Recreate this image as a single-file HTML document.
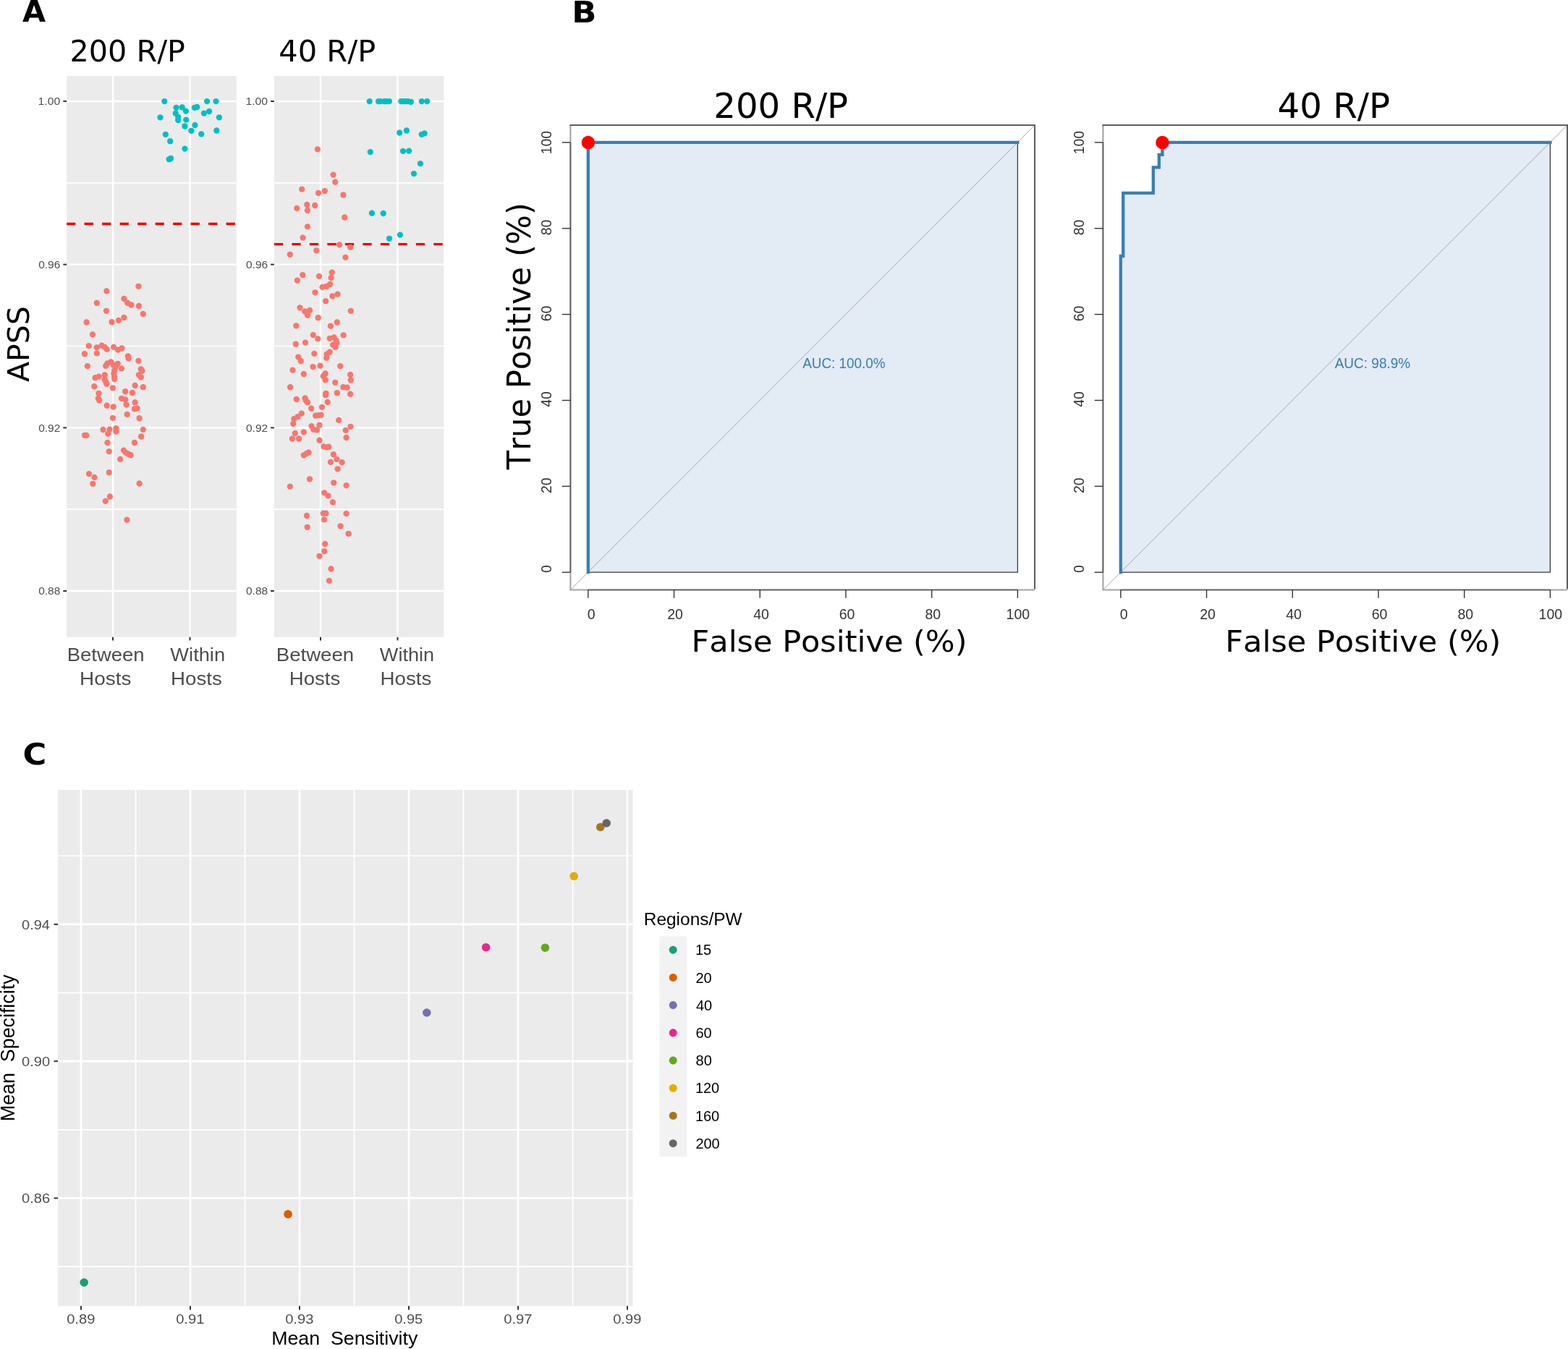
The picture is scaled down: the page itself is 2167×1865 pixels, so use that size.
<!DOCTYPE html>
<html><head><meta charset="utf-8"><title>Figure</title>
<style>html,body{margin:0;padding:0;background:#fff;}svg{display:block;}text{font-kerning:none;font-variant-ligatures:none;}</style>
</head><body>
<svg width="2167" height="1865" viewBox="0 0 2167 1865">
<rect width="2167" height="1865" fill="#fff"/>
<text x="31.10" y="29.70" font-family='"DejaVu Sans", Verdana, sans-serif' font-weight="bold" font-size="41" fill="#000" textLength="32.11" lengthAdjust="spacingAndGlyphs" xml:space="preserve">A</text>
<text x="790.19" y="30.70" font-family='"DejaVu Sans", Verdana, sans-serif' font-weight="bold" font-size="41" fill="#000" textLength="34.17" lengthAdjust="spacingAndGlyphs" xml:space="preserve">B</text>
<text x="31.58" y="1056.80" font-family='"DejaVu Sans", Verdana, sans-serif' font-weight="bold" font-size="41" fill="#000" textLength="32.78" lengthAdjust="spacingAndGlyphs" xml:space="preserve">C</text>
<rect x="92.1" y="105" width="234.6" height="775.8" fill="#ebebeb"/>
<line x1="92.1" x2="326.7" y1="252.83" y2="252.83" stroke="#fff" stroke-width="1.6"/>
<line x1="92.1" x2="326.7" y1="478.5" y2="478.5" stroke="#fff" stroke-width="1.6"/>
<line x1="92.1" x2="326.7" y1="704.17" y2="704.17" stroke="#fff" stroke-width="1.6"/>
<line x1="92.1" x2="326.7" y1="140" y2="140" stroke="#fff" stroke-width="2.4"/>
<line x1="92.1" x2="326.7" y1="365.67" y2="365.67" stroke="#fff" stroke-width="2.4"/>
<line x1="92.1" x2="326.7" y1="591.34" y2="591.34" stroke="#fff" stroke-width="2.4"/>
<line x1="92.1" x2="326.7" y1="817" y2="817" stroke="#fff" stroke-width="2.4"/>
<line x1="156" x2="156" y1="105" y2="880.8" stroke="#fff" stroke-width="2.4"/>
<line x1="262.5" x2="262.5" y1="105" y2="880.8" stroke="#fff" stroke-width="2.4"/>
<line x1="92.1" x2="326.7" y1="309.5" y2="309.5" stroke="#ee0000" stroke-width="3.4" stroke-dasharray="12.25 12.25"/>
<circle cx="191.4" cy="395.8" r="4.15" fill="#f8766d"/>
<circle cx="147.3" cy="402.4" r="4.15" fill="#f8766d"/>
<circle cx="171.4" cy="413" r="4.15" fill="#f8766d"/>
<circle cx="133.8" cy="418.8" r="4.15" fill="#f8766d"/>
<circle cx="176.1" cy="418.8" r="4.15" fill="#f8766d"/>
<circle cx="181.4" cy="421.5" r="4.15" fill="#f8766d"/>
<circle cx="191.9" cy="423" r="4.15" fill="#f8766d"/>
<circle cx="147" cy="429.8" r="4.15" fill="#f8766d"/>
<circle cx="197.8" cy="434" r="4.15" fill="#f8766d"/>
<circle cx="171.4" cy="439" r="4.15" fill="#f8766d"/>
<circle cx="163.9" cy="442.9" r="4.15" fill="#f8766d"/>
<circle cx="154.5" cy="445.2" r="4.15" fill="#f8766d"/>
<circle cx="119.6" cy="445.5" r="4.15" fill="#f8766d"/>
<circle cx="128" cy="462.4" r="4.15" fill="#f8766d"/>
<circle cx="122.7" cy="478.1" r="4.15" fill="#f8766d"/>
<circle cx="133.8" cy="480.3" r="4.15" fill="#f8766d"/>
<circle cx="140.7" cy="477.6" r="4.15" fill="#f8766d"/>
<circle cx="144.7" cy="479.9" r="4.15" fill="#f8766d"/>
<circle cx="147.7" cy="482.9" r="4.15" fill="#f8766d"/>
<circle cx="157.1" cy="479.9" r="4.15" fill="#f8766d"/>
<circle cx="163" cy="483.6" r="4.15" fill="#f8766d"/>
<circle cx="168.4" cy="481.4" r="4.15" fill="#f8766d"/>
<circle cx="117" cy="489.2" r="4.15" fill="#f8766d"/>
<circle cx="133.8" cy="488.4" r="4.15" fill="#f8766d"/>
<circle cx="176.9" cy="492.3" r="4.15" fill="#f8766d"/>
<circle cx="177.6" cy="495.6" r="4.15" fill="#f8766d"/>
<circle cx="191.4" cy="498.9" r="4.15" fill="#f8766d"/>
<circle cx="153.4" cy="500.4" r="4.15" fill="#f8766d"/>
<circle cx="148.5" cy="502.3" r="4.15" fill="#f8766d"/>
<circle cx="162.7" cy="502.8" r="4.15" fill="#f8766d"/>
<circle cx="146.2" cy="505.8" r="4.15" fill="#f8766d"/>
<circle cx="156.7" cy="504.6" r="4.15" fill="#f8766d"/>
<circle cx="120.8" cy="506.1" r="4.15" fill="#f8766d"/>
<circle cx="159.7" cy="507.6" r="4.15" fill="#f8766d"/>
<circle cx="167.9" cy="509.4" r="4.15" fill="#f8766d"/>
<circle cx="194.8" cy="510.3" r="4.15" fill="#f8766d"/>
<circle cx="196.3" cy="512.8" r="4.15" fill="#f8766d"/>
<circle cx="158.2" cy="512.1" r="4.15" fill="#f8766d"/>
<circle cx="157.4" cy="516.5" r="4.15" fill="#f8766d"/>
<circle cx="191.9" cy="518.3" r="4.15" fill="#f8766d"/>
<circle cx="194.8" cy="521.3" r="4.15" fill="#f8766d"/>
<circle cx="144.7" cy="518.3" r="4.15" fill="#f8766d"/>
<circle cx="136.5" cy="520.6" r="4.15" fill="#f8766d"/>
<circle cx="131.6" cy="522.2" r="4.15" fill="#f8766d"/>
<circle cx="158.2" cy="521.3" r="4.15" fill="#f8766d"/>
<circle cx="158.2" cy="524" r="4.15" fill="#f8766d"/>
<circle cx="144.7" cy="524.8" r="4.15" fill="#f8766d"/>
<circle cx="146.2" cy="527.8" r="4.15" fill="#f8766d"/>
<circle cx="147.4" cy="530.8" r="4.15" fill="#f8766d"/>
<circle cx="186.6" cy="533" r="4.15" fill="#f8766d"/>
<circle cx="130.2" cy="534.2" r="4.15" fill="#f8766d"/>
<circle cx="197.8" cy="535.2" r="4.15" fill="#f8766d"/>
<circle cx="155.9" cy="536.3" r="4.15" fill="#f8766d"/>
<circle cx="173.2" cy="541.2" r="4.15" fill="#f8766d"/>
<circle cx="182.9" cy="543" r="4.15" fill="#f8766d"/>
<circle cx="136.5" cy="543.8" r="4.15" fill="#f8766d"/>
<circle cx="135.8" cy="550.9" r="4.15" fill="#f8766d"/>
<circle cx="137.2" cy="553.6" r="4.15" fill="#f8766d"/>
<circle cx="167.9" cy="550.9" r="4.15" fill="#f8766d"/>
<circle cx="173.2" cy="552.4" r="4.15" fill="#f8766d"/>
<circle cx="186.6" cy="556.2" r="4.15" fill="#f8766d"/>
<circle cx="174.6" cy="559.5" r="4.15" fill="#f8766d"/>
<circle cx="147.7" cy="560.7" r="4.15" fill="#f8766d"/>
<circle cx="156.7" cy="562.5" r="4.15" fill="#f8766d"/>
<circle cx="185.9" cy="565.2" r="4.15" fill="#f8766d"/>
<circle cx="189.6" cy="564.4" r="4.15" fill="#f8766d"/>
<circle cx="175.7" cy="572.9" r="4.15" fill="#f8766d"/>
<circle cx="155.9" cy="577.9" r="4.15" fill="#f8766d"/>
<circle cx="192.6" cy="578.2" r="4.15" fill="#f8766d"/>
<circle cx="142.5" cy="594" r="4.15" fill="#f8766d"/>
<circle cx="151.5" cy="593.6" r="4.15" fill="#f8766d"/>
<circle cx="149.2" cy="599.6" r="4.15" fill="#f8766d"/>
<circle cx="160.4" cy="592.1" r="4.15" fill="#f8766d"/>
<circle cx="160.4" cy="596.6" r="4.15" fill="#f8766d"/>
<circle cx="197.8" cy="593.9" r="4.15" fill="#f8766d"/>
<circle cx="117" cy="601.8" r="4.15" fill="#f8766d"/>
<circle cx="119.3" cy="601.8" r="4.15" fill="#f8766d"/>
<circle cx="195.1" cy="603.5" r="4.15" fill="#f8766d"/>
<circle cx="148.5" cy="612" r="4.15" fill="#f8766d"/>
<circle cx="185.9" cy="612" r="4.15" fill="#f8766d"/>
<circle cx="150.7" cy="624.1" r="4.15" fill="#f8766d"/>
<circle cx="170.9" cy="622.6" r="4.15" fill="#f8766d"/>
<circle cx="173.9" cy="625.9" r="4.15" fill="#f8766d"/>
<circle cx="177.6" cy="627.7" r="4.15" fill="#f8766d"/>
<circle cx="180.6" cy="629.2" r="4.15" fill="#f8766d"/>
<circle cx="166.1" cy="634.9" r="4.15" fill="#f8766d"/>
<circle cx="123" cy="655.1" r="4.15" fill="#f8766d"/>
<circle cx="130.5" cy="659.9" r="4.15" fill="#f8766d"/>
<circle cx="128.3" cy="668.8" r="4.15" fill="#f8766d"/>
<circle cx="150.7" cy="653.1" r="4.15" fill="#f8766d"/>
<circle cx="192.6" cy="668.5" r="4.15" fill="#f8766d"/>
<circle cx="151.9" cy="686.5" r="4.15" fill="#f8766d"/>
<circle cx="145.8" cy="692.8" r="4.15" fill="#f8766d"/>
<circle cx="175.4" cy="718.7" r="4.15" fill="#f8766d"/>
<circle cx="227.3" cy="140.1" r="4.15" fill="#00bfc4"/>
<circle cx="286.1" cy="140.1" r="4.15" fill="#00bfc4"/>
<circle cx="298.5" cy="140.1" r="4.15" fill="#00bfc4"/>
<circle cx="243.5" cy="148.8" r="4.15" fill="#00bfc4"/>
<circle cx="251.7" cy="148.3" r="4.15" fill="#00bfc4"/>
<circle cx="256.9" cy="153.6" r="4.15" fill="#00bfc4"/>
<circle cx="268.9" cy="148.8" r="4.15" fill="#00bfc4"/>
<circle cx="272.3" cy="148" r="4.15" fill="#00bfc4"/>
<circle cx="289.1" cy="154" r="4.15" fill="#00bfc4"/>
<circle cx="281.9" cy="156.6" r="4.15" fill="#00bfc4"/>
<circle cx="242.7" cy="156.6" r="4.15" fill="#00bfc4"/>
<circle cx="221.5" cy="162.3" r="4.15" fill="#00bfc4"/>
<circle cx="246.2" cy="161.8" r="4.15" fill="#00bfc4"/>
<circle cx="246.2" cy="166" r="4.15" fill="#00bfc4"/>
<circle cx="257.2" cy="165.6" r="4.15" fill="#00bfc4"/>
<circle cx="302.9" cy="162.3" r="4.15" fill="#00bfc4"/>
<circle cx="255.4" cy="174.5" r="4.15" fill="#00bfc4"/>
<circle cx="269.4" cy="173" r="4.15" fill="#00bfc4"/>
<circle cx="264.4" cy="180.8" r="4.15" fill="#00bfc4"/>
<circle cx="278.2" cy="185.3" r="4.15" fill="#00bfc4"/>
<circle cx="299.3" cy="180.5" r="4.15" fill="#00bfc4"/>
<circle cx="228.8" cy="185.8" r="4.15" fill="#00bfc4"/>
<circle cx="235.2" cy="195.2" r="4.15" fill="#00bfc4"/>
<circle cx="255.4" cy="205.6" r="4.15" fill="#00bfc4"/>
<circle cx="233.7" cy="220.2" r="4.15" fill="#00bfc4"/>
<circle cx="236" cy="219" r="4.15" fill="#00bfc4"/>
<line x1="87.3" x2="92.1" y1="140" y2="140" stroke="#333" stroke-width="2"/>
<text x="52.60" y="145.30" font-family='"Liberation Sans", Arial, Helvetica, sans-serif' font-size="15.2" fill="#4d4d4d" textLength="30.61" lengthAdjust="spacingAndGlyphs" xml:space="preserve">1.00</text>
<line x1="87.3" x2="92.1" y1="365.67" y2="365.67" stroke="#333" stroke-width="2"/>
<text x="53.20" y="370.97" font-family='"Liberation Sans", Arial, Helvetica, sans-serif' font-size="15.2" fill="#4d4d4d" textLength="30.08" lengthAdjust="spacingAndGlyphs" xml:space="preserve">0.96</text>
<line x1="87.3" x2="92.1" y1="591.34" y2="591.34" stroke="#333" stroke-width="2"/>
<text x="53.19" y="596.64" font-family='"Liberation Sans", Arial, Helvetica, sans-serif' font-size="15.2" fill="#4d4d4d" textLength="30.19" lengthAdjust="spacingAndGlyphs" xml:space="preserve">0.92</text>
<line x1="87.3" x2="92.1" y1="817" y2="817" stroke="#333" stroke-width="2"/>
<text x="53.20" y="822.30" font-family='"Liberation Sans", Arial, Helvetica, sans-serif' font-size="15.2" fill="#4d4d4d" textLength="30.08" lengthAdjust="spacingAndGlyphs" xml:space="preserve">0.88</text>
<line x1="156" x2="156" y1="880.8" y2="885.4" stroke="#333" stroke-width="2"/>
<line x1="262.5" x2="262.5" y1="880.8" y2="885.4" stroke="#333" stroke-width="2"/>
<text x="92.75" y="914.10" font-family='"Liberation Sans", Arial, Helvetica, sans-serif' font-size="26.5" fill="#4d4d4d" textLength="106.83" lengthAdjust="spacingAndGlyphs" xml:space="preserve">Between</text>
<text x="110.11" y="947.40" font-family='"Liberation Sans", Arial, Helvetica, sans-serif' font-size="26.5" fill="#4d4d4d" textLength="71.30" lengthAdjust="spacingAndGlyphs" xml:space="preserve">Hosts</text>
<text x="235.38" y="914.10" font-family='"Liberation Sans", Arial, Helvetica, sans-serif' font-size="26.5" fill="#4d4d4d" textLength="75.69" lengthAdjust="spacingAndGlyphs" xml:space="preserve">Within</text>
<text x="236.13" y="947.40" font-family='"Liberation Sans", Arial, Helvetica, sans-serif' font-size="26.5" fill="#4d4d4d" textLength="70.67" lengthAdjust="spacingAndGlyphs" xml:space="preserve">Hosts</text>
<text x="96.58" y="85.00" font-family='"DejaVu Sans", Verdana, sans-serif' font-size="41" fill="#000" textLength="159.44" lengthAdjust="spacingAndGlyphs" xml:space="preserve">200 R/P</text>
<rect x="378.9" y="105" width="234.4" height="775.8" fill="#ebebeb"/>
<line x1="378.9" x2="613.3" y1="252.83" y2="252.83" stroke="#fff" stroke-width="1.6"/>
<line x1="378.9" x2="613.3" y1="478.5" y2="478.5" stroke="#fff" stroke-width="1.6"/>
<line x1="378.9" x2="613.3" y1="704.17" y2="704.17" stroke="#fff" stroke-width="1.6"/>
<line x1="378.9" x2="613.3" y1="140" y2="140" stroke="#fff" stroke-width="2.4"/>
<line x1="378.9" x2="613.3" y1="365.67" y2="365.67" stroke="#fff" stroke-width="2.4"/>
<line x1="378.9" x2="613.3" y1="591.34" y2="591.34" stroke="#fff" stroke-width="2.4"/>
<line x1="378.9" x2="613.3" y1="817" y2="817" stroke="#fff" stroke-width="2.4"/>
<line x1="443" x2="443" y1="105" y2="880.8" stroke="#fff" stroke-width="2.4"/>
<line x1="549.5" x2="549.5" y1="105" y2="880.8" stroke="#fff" stroke-width="2.4"/>
<line x1="378.9" x2="613.3" y1="337.6" y2="337.6" stroke="#ee0000" stroke-width="3.4" stroke-dasharray="12.25 12.25"/>
<circle cx="438.9" cy="206.4" r="4.15" fill="#f8766d"/>
<circle cx="460.6" cy="241.6" r="4.15" fill="#f8766d"/>
<circle cx="463.2" cy="251.6" r="4.15" fill="#f8766d"/>
<circle cx="417.2" cy="261.6" r="4.15" fill="#f8766d"/>
<circle cx="440" cy="266.8" r="4.15" fill="#f8766d"/>
<circle cx="448.9" cy="264" r="4.15" fill="#f8766d"/>
<circle cx="474.4" cy="269.5" r="4.15" fill="#f8766d"/>
<circle cx="424.3" cy="283" r="4.15" fill="#f8766d"/>
<circle cx="435.2" cy="284" r="4.15" fill="#f8766d"/>
<circle cx="410.3" cy="287.9" r="4.15" fill="#f8766d"/>
<circle cx="425" cy="290.9" r="4.15" fill="#f8766d"/>
<circle cx="476.2" cy="300.5" r="4.15" fill="#f8766d"/>
<circle cx="425" cy="313.4" r="4.15" fill="#f8766d"/>
<circle cx="418.6" cy="328.6" r="4.15" fill="#f8766d"/>
<circle cx="469.1" cy="338.4" r="4.15" fill="#f8766d"/>
<circle cx="484.1" cy="341.8" r="4.15" fill="#f8766d"/>
<circle cx="437.3" cy="346.3" r="4.15" fill="#f8766d"/>
<circle cx="400.8" cy="351.8" r="4.15" fill="#f8766d"/>
<circle cx="477.4" cy="355.8" r="4.15" fill="#f8766d"/>
<circle cx="418.3" cy="380.1" r="4.15" fill="#f8766d"/>
<circle cx="410.8" cy="387.6" r="4.15" fill="#f8766d"/>
<circle cx="441" cy="381.9" r="4.15" fill="#f8766d"/>
<circle cx="458.7" cy="376.7" r="4.15" fill="#f8766d"/>
<circle cx="457.6" cy="384.1" r="4.15" fill="#f8766d"/>
<circle cx="456.1" cy="392.8" r="4.15" fill="#f8766d"/>
<circle cx="451.2" cy="395.8" r="4.15" fill="#f8766d"/>
<circle cx="445.6" cy="396.9" r="4.15" fill="#f8766d"/>
<circle cx="435.5" cy="404.3" r="4.15" fill="#f8766d"/>
<circle cx="466.6" cy="406.6" r="4.15" fill="#f8766d"/>
<circle cx="459.4" cy="409.3" r="4.15" fill="#f8766d"/>
<circle cx="450.1" cy="416.3" r="4.15" fill="#f8766d"/>
<circle cx="414.5" cy="425.3" r="4.15" fill="#f8766d"/>
<circle cx="421.3" cy="430.5" r="4.15" fill="#f8766d"/>
<circle cx="428" cy="429" r="4.15" fill="#f8766d"/>
<circle cx="425" cy="435.8" r="4.15" fill="#f8766d"/>
<circle cx="439.7" cy="439.2" r="4.15" fill="#f8766d"/>
<circle cx="484.8" cy="429.8" r="4.15" fill="#f8766d"/>
<circle cx="409.3" cy="450.3" r="4.15" fill="#f8766d"/>
<circle cx="465.8" cy="445.5" r="4.15" fill="#f8766d"/>
<circle cx="456.9" cy="450.7" r="4.15" fill="#f8766d"/>
<circle cx="432.8" cy="463.1" r="4.15" fill="#f8766d"/>
<circle cx="439.2" cy="468.4" r="4.15" fill="#f8766d"/>
<circle cx="474.7" cy="463.4" r="4.15" fill="#f8766d"/>
<circle cx="455.7" cy="467.9" r="4.15" fill="#f8766d"/>
<circle cx="461.7" cy="466.4" r="4.15" fill="#f8766d"/>
<circle cx="464.6" cy="470.9" r="4.15" fill="#f8766d"/>
<circle cx="465.4" cy="473.9" r="4.15" fill="#f8766d"/>
<circle cx="460.2" cy="476.9" r="4.15" fill="#f8766d"/>
<circle cx="463.6" cy="479.9" r="4.15" fill="#f8766d"/>
<circle cx="408.8" cy="475.7" r="4.15" fill="#f8766d"/>
<circle cx="422" cy="473.6" r="4.15" fill="#f8766d"/>
<circle cx="434.3" cy="488.9" r="4.15" fill="#f8766d"/>
<circle cx="455.7" cy="486.6" r="4.15" fill="#f8766d"/>
<circle cx="451.6" cy="489.6" r="4.15" fill="#f8766d"/>
<circle cx="451.2" cy="494.8" r="4.15" fill="#f8766d"/>
<circle cx="412.3" cy="493.6" r="4.15" fill="#f8766d"/>
<circle cx="415.7" cy="499" r="4.15" fill="#f8766d"/>
<circle cx="432.5" cy="507.1" r="4.15" fill="#f8766d"/>
<circle cx="442.5" cy="505.6" r="4.15" fill="#f8766d"/>
<circle cx="470.2" cy="506.1" r="4.15" fill="#f8766d"/>
<circle cx="404.5" cy="511.6" r="4.15" fill="#f8766d"/>
<circle cx="419.8" cy="517" r="4.15" fill="#f8766d"/>
<circle cx="449.7" cy="516.5" r="4.15" fill="#f8766d"/>
<circle cx="446.7" cy="520" r="4.15" fill="#f8766d"/>
<circle cx="449.7" cy="525.2" r="4.15" fill="#f8766d"/>
<circle cx="484.1" cy="518" r="4.15" fill="#f8766d"/>
<circle cx="484.8" cy="525.5" r="4.15" fill="#f8766d"/>
<circle cx="463.2" cy="528.8" r="4.15" fill="#f8766d"/>
<circle cx="401.1" cy="535.2" r="4.15" fill="#f8766d"/>
<circle cx="474.4" cy="535.2" r="4.15" fill="#f8766d"/>
<circle cx="479.6" cy="535.7" r="4.15" fill="#f8766d"/>
<circle cx="450.4" cy="543.8" r="4.15" fill="#f8766d"/>
<circle cx="450.1" cy="546.2" r="4.15" fill="#f8766d"/>
<circle cx="465.8" cy="543.2" r="4.15" fill="#f8766d"/>
<circle cx="484.1" cy="544.7" r="4.15" fill="#f8766d"/>
<circle cx="409.7" cy="552" r="4.15" fill="#f8766d"/>
<circle cx="421.6" cy="550.5" r="4.15" fill="#f8766d"/>
<circle cx="422.8" cy="553.9" r="4.15" fill="#f8766d"/>
<circle cx="425" cy="556.2" r="4.15" fill="#f8766d"/>
<circle cx="452.7" cy="555.9" r="4.15" fill="#f8766d"/>
<circle cx="430.2" cy="564.7" r="4.15" fill="#f8766d"/>
<circle cx="444.9" cy="562.9" r="4.15" fill="#f8766d"/>
<circle cx="416.8" cy="571.6" r="4.15" fill="#f8766d"/>
<circle cx="411.5" cy="576.1" r="4.15" fill="#f8766d"/>
<circle cx="406.3" cy="579.1" r="4.15" fill="#f8766d"/>
<circle cx="405.3" cy="585.8" r="4.15" fill="#f8766d"/>
<circle cx="436.2" cy="574.6" r="4.15" fill="#f8766d"/>
<circle cx="440" cy="574.2" r="4.15" fill="#f8766d"/>
<circle cx="443.6" cy="573.6" r="4.15" fill="#f8766d"/>
<circle cx="468.1" cy="580.9" r="4.15" fill="#f8766d"/>
<circle cx="441.5" cy="587.6" r="4.15" fill="#f8766d"/>
<circle cx="430.5" cy="589.1" r="4.15" fill="#f8766d"/>
<circle cx="433.2" cy="593.9" r="4.15" fill="#f8766d"/>
<circle cx="438" cy="594.3" r="4.15" fill="#f8766d"/>
<circle cx="484.5" cy="589.8" r="4.15" fill="#f8766d"/>
<circle cx="477.7" cy="594.8" r="4.15" fill="#f8766d"/>
<circle cx="407.8" cy="599" r="4.15" fill="#f8766d"/>
<circle cx="419.8" cy="597.4" r="4.15" fill="#f8766d"/>
<circle cx="403.8" cy="606.5" r="4.15" fill="#f8766d"/>
<circle cx="413" cy="606.5" r="4.15" fill="#f8766d"/>
<circle cx="441.5" cy="608.7" r="4.15" fill="#f8766d"/>
<circle cx="447.4" cy="617.4" r="4.15" fill="#f8766d"/>
<circle cx="451.9" cy="618.4" r="4.15" fill="#f8766d"/>
<circle cx="454.2" cy="617.7" r="4.15" fill="#f8766d"/>
<circle cx="478.6" cy="605" r="4.15" fill="#f8766d"/>
<circle cx="419.8" cy="629.3" r="4.15" fill="#f8766d"/>
<circle cx="423.5" cy="627.1" r="4.15" fill="#f8766d"/>
<circle cx="426.5" cy="625.5" r="4.15" fill="#f8766d"/>
<circle cx="460.9" cy="628.2" r="4.15" fill="#f8766d"/>
<circle cx="465.4" cy="634.9" r="4.15" fill="#f8766d"/>
<circle cx="456.9" cy="638.9" r="4.15" fill="#f8766d"/>
<circle cx="472.6" cy="639.1" r="4.15" fill="#f8766d"/>
<circle cx="466.6" cy="648.3" r="4.15" fill="#f8766d"/>
<circle cx="428" cy="662.3" r="4.15" fill="#f8766d"/>
<circle cx="400.8" cy="672.6" r="4.15" fill="#f8766d"/>
<circle cx="461.2" cy="667.3" r="4.15" fill="#f8766d"/>
<circle cx="478.6" cy="671.1" r="4.15" fill="#f8766d"/>
<circle cx="448.2" cy="681.3" r="4.15" fill="#f8766d"/>
<circle cx="453.4" cy="685.3" r="4.15" fill="#f8766d"/>
<circle cx="459.9" cy="694.3" r="4.15" fill="#f8766d"/>
<circle cx="424" cy="713" r="4.15" fill="#f8766d"/>
<circle cx="446.7" cy="709.7" r="4.15" fill="#f8766d"/>
<circle cx="450.4" cy="709.7" r="4.15" fill="#f8766d"/>
<circle cx="478.6" cy="710.1" r="4.15" fill="#f8766d"/>
<circle cx="447.9" cy="718.4" r="4.15" fill="#f8766d"/>
<circle cx="424.7" cy="728.8" r="4.15" fill="#f8766d"/>
<circle cx="470.6" cy="727.3" r="4.15" fill="#f8766d"/>
<circle cx="481.6" cy="737.8" r="4.15" fill="#f8766d"/>
<circle cx="449.2" cy="752" r="4.15" fill="#f8766d"/>
<circle cx="448.2" cy="762.1" r="4.15" fill="#f8766d"/>
<circle cx="441.5" cy="768.8" r="4.15" fill="#f8766d"/>
<circle cx="457.6" cy="786.4" r="4.15" fill="#f8766d"/>
<circle cx="454.9" cy="802.9" r="4.15" fill="#f8766d"/>
<circle cx="510.7" cy="140.1" r="4.15" fill="#00bfc4"/>
<circle cx="523" cy="140.1" r="4.15" fill="#00bfc4"/>
<circle cx="526" cy="140.1" r="4.15" fill="#00bfc4"/>
<circle cx="531.2" cy="140.1" r="4.15" fill="#00bfc4"/>
<circle cx="534.2" cy="140.1" r="4.15" fill="#00bfc4"/>
<circle cx="538" cy="140.1" r="4.15" fill="#00bfc4"/>
<circle cx="554.4" cy="140.1" r="4.15" fill="#00bfc4"/>
<circle cx="557.4" cy="140.1" r="4.15" fill="#00bfc4"/>
<circle cx="561.1" cy="140.1" r="4.15" fill="#00bfc4"/>
<circle cx="564.1" cy="140.1" r="4.15" fill="#00bfc4"/>
<circle cx="567.9" cy="140.8" r="4.15" fill="#00bfc4"/>
<circle cx="582.8" cy="140.1" r="4.15" fill="#00bfc4"/>
<circle cx="590.3" cy="140.1" r="4.15" fill="#00bfc4"/>
<circle cx="552.2" cy="183.5" r="4.15" fill="#00bfc4"/>
<circle cx="561.9" cy="180.5" r="4.15" fill="#00bfc4"/>
<circle cx="582.8" cy="185.8" r="4.15" fill="#00bfc4"/>
<circle cx="586.6" cy="184.3" r="4.15" fill="#00bfc4"/>
<circle cx="511.8" cy="210.1" r="4.15" fill="#00bfc4"/>
<circle cx="557" cy="208.9" r="4.15" fill="#00bfc4"/>
<circle cx="565.2" cy="208.6" r="4.15" fill="#00bfc4"/>
<circle cx="580.9" cy="226.1" r="4.15" fill="#00bfc4"/>
<circle cx="571.9" cy="240.1" r="4.15" fill="#00bfc4"/>
<circle cx="514" cy="294.7" r="4.15" fill="#00bfc4"/>
<circle cx="529.7" cy="295" r="4.15" fill="#00bfc4"/>
<circle cx="552.9" cy="324.6" r="4.15" fill="#00bfc4"/>
<circle cx="538" cy="329.8" r="4.15" fill="#00bfc4"/>
<line x1="374.1" x2="378.9" y1="140" y2="140" stroke="#333" stroke-width="2"/>
<text x="339.40" y="145.30" font-family='"Liberation Sans", Arial, Helvetica, sans-serif' font-size="15.2" fill="#4d4d4d" textLength="30.61" lengthAdjust="spacingAndGlyphs" xml:space="preserve">1.00</text>
<line x1="374.1" x2="378.9" y1="365.67" y2="365.67" stroke="#333" stroke-width="2"/>
<text x="340.00" y="370.97" font-family='"Liberation Sans", Arial, Helvetica, sans-serif' font-size="15.2" fill="#4d4d4d" textLength="30.08" lengthAdjust="spacingAndGlyphs" xml:space="preserve">0.96</text>
<line x1="374.1" x2="378.9" y1="591.34" y2="591.34" stroke="#333" stroke-width="2"/>
<text x="339.99" y="596.64" font-family='"Liberation Sans", Arial, Helvetica, sans-serif' font-size="15.2" fill="#4d4d4d" textLength="30.19" lengthAdjust="spacingAndGlyphs" xml:space="preserve">0.92</text>
<line x1="374.1" x2="378.9" y1="817" y2="817" stroke="#333" stroke-width="2"/>
<text x="340.00" y="822.30" font-family='"Liberation Sans", Arial, Helvetica, sans-serif' font-size="15.2" fill="#4d4d4d" textLength="30.08" lengthAdjust="spacingAndGlyphs" xml:space="preserve">0.88</text>
<line x1="443" x2="443" y1="880.8" y2="885.4" stroke="#333" stroke-width="2"/>
<line x1="549.5" x2="549.5" y1="880.8" y2="885.4" stroke="#333" stroke-width="2"/>
<text x="381.73" y="914.10" font-family='"Liberation Sans", Arial, Helvetica, sans-serif' font-size="26.5" fill="#4d4d4d" textLength="107.46" lengthAdjust="spacingAndGlyphs" xml:space="preserve">Between</text>
<text x="399.74" y="947.40" font-family='"Liberation Sans", Arial, Helvetica, sans-serif' font-size="26.5" fill="#4d4d4d" textLength="70.46" lengthAdjust="spacingAndGlyphs" xml:space="preserve">Hosts</text>
<text x="524.88" y="914.10" font-family='"Liberation Sans", Arial, Helvetica, sans-serif' font-size="26.5" fill="#4d4d4d" textLength="75.18" lengthAdjust="spacingAndGlyphs" xml:space="preserve">Within</text>
<text x="525.63" y="947.40" font-family='"Liberation Sans", Arial, Helvetica, sans-serif' font-size="26.5" fill="#4d4d4d" textLength="70.77" lengthAdjust="spacingAndGlyphs" xml:space="preserve">Hosts</text>
<text x="385.27" y="85.00" font-family='"DejaVu Sans", Verdana, sans-serif' font-size="41" fill="#000" textLength="134.05" lengthAdjust="spacingAndGlyphs" xml:space="preserve">40 R/P</text>
<text transform="translate(40.00 527.60) rotate(-90)" x="-0.32" y="0" font-family='"DejaVu Sans", Verdana, sans-serif' font-size="40.9" fill="#000" textLength="104.60" lengthAdjust="spacingAndGlyphs" xml:space="preserve">APSS</text>
<polygon points="812.8,791.2 812.8,196.9 1406.4,196.9 1406.4,791.2 812.8,791.2" fill="#e3ebf5" stroke="#3a3a3a" stroke-width="1.3"/>
<line x1="788.4" y1="815.5" x2="1430" y2="173" stroke="#959595" stroke-width="0.8"/>
<path d="M788.4,173 V196.9 M788.4,791.2 V815.5 H812.8 M1406.4,815.5 H1430" fill="none" stroke="#a3a3a3" stroke-width="2.1"/>
<path d="M788.4,196.9 V791.2 M812.8,815.5 H1406.4 M787.35,173 H1430 V814.45" fill="none" stroke="#606060" stroke-width="2.1"/>
<line x1="776.7" x2="788.4" y1="791.2" y2="791.2" stroke="#333" stroke-width="1.4"/>
<text transform="translate(762.00 791.26) rotate(-90)" x="-0.76" y="0" font-family='"Liberation Sans", Arial, Helvetica, sans-serif' font-size="19.5" fill="#333" xml:space="preserve">0</text>
<line x1="812.8" x2="812.8" y1="815.5" y2="826.8" stroke="#333" stroke-width="1.4"/>
<text x="811.78" y="855.70" font-family='"Liberation Sans", Arial, Helvetica, sans-serif' font-size="19.5" fill="#333" xml:space="preserve">0</text>
<line x1="776.7" x2="788.4" y1="672.34" y2="672.34" stroke="#333" stroke-width="1.4"/>
<text transform="translate(762.00 681.01) rotate(-90)" x="-0.98" y="0" font-family='"Liberation Sans", Arial, Helvetica, sans-serif' font-size="19.5" fill="#333" xml:space="preserve">20</text>
<line x1="931.52" x2="931.52" y1="815.5" y2="826.8" stroke="#333" stroke-width="1.4"/>
<text x="922.27" y="855.70" font-family='"Liberation Sans", Arial, Helvetica, sans-serif' font-size="19.5" fill="#333" xml:space="preserve">20</text>
<line x1="776.7" x2="788.4" y1="553.48" y2="553.48" stroke="#333" stroke-width="1.4"/>
<text transform="translate(762.00 562.42) rotate(-90)" x="-0.45" y="0" font-family='"Liberation Sans", Arial, Helvetica, sans-serif' font-size="19.5" fill="#333" xml:space="preserve">40</text>
<line x1="1050.24" x2="1050.24" y1="815.5" y2="826.8" stroke="#333" stroke-width="1.4"/>
<text x="1041.25" y="855.70" font-family='"Liberation Sans", Arial, Helvetica, sans-serif' font-size="19.5" fill="#333" xml:space="preserve">40</text>
<line x1="776.7" x2="788.4" y1="434.62" y2="434.62" stroke="#333" stroke-width="1.4"/>
<text transform="translate(762.00 443.29) rotate(-90)" x="-0.99" y="0" font-family='"Liberation Sans", Arial, Helvetica, sans-serif' font-size="19.5" fill="#333" xml:space="preserve">60</text>
<line x1="1168.96" x2="1168.96" y1="815.5" y2="826.8" stroke="#333" stroke-width="1.4"/>
<text x="1159.70" y="855.70" font-family='"Liberation Sans", Arial, Helvetica, sans-serif' font-size="19.5" fill="#333" xml:space="preserve">60</text>
<line x1="776.7" x2="788.4" y1="315.76" y2="315.76" stroke="#333" stroke-width="1.4"/>
<text transform="translate(762.00 324.50) rotate(-90)" x="-0.85" y="0" font-family='"Liberation Sans", Arial, Helvetica, sans-serif' font-size="19.5" fill="#333" xml:space="preserve">80</text>
<line x1="1287.68" x2="1287.68" y1="815.5" y2="826.8" stroke="#333" stroke-width="1.4"/>
<text x="1278.49" y="855.70" font-family='"Liberation Sans", Arial, Helvetica, sans-serif' font-size="19.5" fill="#333" xml:space="preserve">80</text>
<line x1="776.7" x2="788.4" y1="196.9" y2="196.9" stroke="#333" stroke-width="1.4"/>
<text transform="translate(762.00 211.84) rotate(-90)" x="-1.49" y="0" font-family='"Liberation Sans", Arial, Helvetica, sans-serif' font-size="19.5" fill="#333" xml:space="preserve">100</text>
<line x1="1406.4" x2="1406.4" y1="815.5" y2="826.8" stroke="#333" stroke-width="1.4"/>
<text x="1390.57" y="855.70" font-family='"Liberation Sans", Arial, Helvetica, sans-serif' font-size="19.5" fill="#333" xml:space="preserve">100</text>
<path d="M812.8,791.2 L812.8,196.9 L1406.4,196.9" fill="none" stroke="#377eb8" stroke-width="4.3" stroke-linejoin="miter" stroke-linecap="square"/>
<circle cx="812.8" cy="196.9" r="9.2" fill="#ff0000"/>
<text x="1109.26" y="508.60" font-family='"Liberation Sans", Arial, Helvetica, sans-serif' font-size="19.6" fill="#377eb8" textLength="114.31" lengthAdjust="spacingAndGlyphs" xml:space="preserve">AUC: 100.0%</text>
<text x="986.27" y="163.20" font-family='"DejaVu Sans", Verdana, sans-serif' font-size="47.5" fill="#000" textLength="185.87" lengthAdjust="spacingAndGlyphs" xml:space="preserve">200 R/P</text>
<text x="955.58" y="900.90" font-family='"DejaVu Sans", Verdana, sans-serif' font-size="41.5" fill="#000" textLength="380.92" lengthAdjust="spacingAndGlyphs" xml:space="preserve">False Positive (%)</text>
<text transform="translate(732.60 649.40) rotate(-90)" x="0.13" y="0" font-family='"DejaVu Sans", Verdana, sans-serif' font-size="43.9" fill="#000" textLength="369.09" lengthAdjust="spacingAndGlyphs" xml:space="preserve">True Positive (%)</text>
<polygon points="1548.8,791.2 1548.8,354 1552.2,354 1552.2,266.9 1593.8,266.9 1593.8,231.3 1601.8,231.3 1601.8,213.9 1606.4,213.9 1606.4,196.9 2142.4,196.9 2142.4,791.2 1548.8,791.2" fill="#e3ebf5" stroke="#3a3a3a" stroke-width="1.3"/>
<line x1="1524.4" y1="815.5" x2="2166" y2="173" stroke="#959595" stroke-width="0.8"/>
<path d="M1524.4,173 V196.9 M1524.4,791.2 V815.5 H1548.8 M2142.4,815.5 H2166" fill="none" stroke="#a3a3a3" stroke-width="2.1"/>
<path d="M1524.4,196.9 V791.2 M1548.8,815.5 H2142.4 M1523.35,173 H2166 V814.45" fill="none" stroke="#606060" stroke-width="2.1"/>
<line x1="1512.7" x2="1524.4" y1="791.2" y2="791.2" stroke="#333" stroke-width="1.4"/>
<text transform="translate(1498.00 791.26) rotate(-90)" x="-0.76" y="0" font-family='"Liberation Sans", Arial, Helvetica, sans-serif' font-size="19.5" fill="#333" xml:space="preserve">0</text>
<line x1="1548.8" x2="1548.8" y1="815.5" y2="826.8" stroke="#333" stroke-width="1.4"/>
<text x="1547.78" y="855.70" font-family='"Liberation Sans", Arial, Helvetica, sans-serif' font-size="19.5" fill="#333" xml:space="preserve">0</text>
<line x1="1512.7" x2="1524.4" y1="672.34" y2="672.34" stroke="#333" stroke-width="1.4"/>
<text transform="translate(1498.00 681.01) rotate(-90)" x="-0.98" y="0" font-family='"Liberation Sans", Arial, Helvetica, sans-serif' font-size="19.5" fill="#333" xml:space="preserve">20</text>
<line x1="1667.52" x2="1667.52" y1="815.5" y2="826.8" stroke="#333" stroke-width="1.4"/>
<text x="1658.27" y="855.70" font-family='"Liberation Sans", Arial, Helvetica, sans-serif' font-size="19.5" fill="#333" xml:space="preserve">20</text>
<line x1="1512.7" x2="1524.4" y1="553.48" y2="553.48" stroke="#333" stroke-width="1.4"/>
<text transform="translate(1498.00 562.42) rotate(-90)" x="-0.45" y="0" font-family='"Liberation Sans", Arial, Helvetica, sans-serif' font-size="19.5" fill="#333" xml:space="preserve">40</text>
<line x1="1786.24" x2="1786.24" y1="815.5" y2="826.8" stroke="#333" stroke-width="1.4"/>
<text x="1777.25" y="855.70" font-family='"Liberation Sans", Arial, Helvetica, sans-serif' font-size="19.5" fill="#333" xml:space="preserve">40</text>
<line x1="1512.7" x2="1524.4" y1="434.62" y2="434.62" stroke="#333" stroke-width="1.4"/>
<text transform="translate(1498.00 443.29) rotate(-90)" x="-0.99" y="0" font-family='"Liberation Sans", Arial, Helvetica, sans-serif' font-size="19.5" fill="#333" xml:space="preserve">60</text>
<line x1="1904.96" x2="1904.96" y1="815.5" y2="826.8" stroke="#333" stroke-width="1.4"/>
<text x="1895.70" y="855.70" font-family='"Liberation Sans", Arial, Helvetica, sans-serif' font-size="19.5" fill="#333" xml:space="preserve">60</text>
<line x1="1512.7" x2="1524.4" y1="315.76" y2="315.76" stroke="#333" stroke-width="1.4"/>
<text transform="translate(1498.00 324.50) rotate(-90)" x="-0.85" y="0" font-family='"Liberation Sans", Arial, Helvetica, sans-serif' font-size="19.5" fill="#333" xml:space="preserve">80</text>
<line x1="2023.68" x2="2023.68" y1="815.5" y2="826.8" stroke="#333" stroke-width="1.4"/>
<text x="2014.49" y="855.70" font-family='"Liberation Sans", Arial, Helvetica, sans-serif' font-size="19.5" fill="#333" xml:space="preserve">80</text>
<line x1="1512.7" x2="1524.4" y1="196.9" y2="196.9" stroke="#333" stroke-width="1.4"/>
<text transform="translate(1498.00 211.84) rotate(-90)" x="-1.49" y="0" font-family='"Liberation Sans", Arial, Helvetica, sans-serif' font-size="19.5" fill="#333" xml:space="preserve">100</text>
<line x1="2142.4" x2="2142.4" y1="815.5" y2="826.8" stroke="#333" stroke-width="1.4"/>
<text x="2126.57" y="855.70" font-family='"Liberation Sans", Arial, Helvetica, sans-serif' font-size="19.5" fill="#333" xml:space="preserve">100</text>
<path d="M1548.8,791.2 L1548.8,354 L1552.2,354 L1552.2,266.9 L1593.8,266.9 L1593.8,231.3 L1601.8,231.3 L1601.8,213.9 L1606.4,213.9 L1606.4,196.9 L2142.4,196.9" fill="none" stroke="#377eb8" stroke-width="4.3" stroke-linejoin="miter" stroke-linecap="square"/>
<circle cx="1606.4" cy="196.9" r="9.2" fill="#ff0000"/>
<text x="1844.66" y="508.60" font-family='"Liberation Sans", Arial, Helvetica, sans-serif' font-size="19.6" fill="#377eb8" textLength="104.61" lengthAdjust="spacingAndGlyphs" xml:space="preserve">AUC: 98.9%</text>
<text x="1765.54" y="163.20" font-family='"DejaVu Sans", Verdana, sans-serif' font-size="47.5" fill="#000" textLength="155.71" lengthAdjust="spacingAndGlyphs" xml:space="preserve">40 R/P</text>
<text x="1693.38" y="900.90" font-family='"DejaVu Sans", Verdana, sans-serif' font-size="41.5" fill="#000" textLength="380.92" lengthAdjust="spacingAndGlyphs" xml:space="preserve">False Positive (%)</text>
<rect x="80.1" y="1092" width="794.5" height="713.6" fill="#ebebeb"/>
<line x1="80.1" x2="874.6" y1="1183.26" y2="1183.26" stroke="#fff" stroke-width="1.7"/>
<line x1="80.1" x2="874.6" y1="1372.54" y2="1372.54" stroke="#fff" stroke-width="1.7"/>
<line x1="80.1" x2="874.6" y1="1561.82" y2="1561.82" stroke="#fff" stroke-width="1.7"/>
<line x1="80.1" x2="874.6" y1="1751.1" y2="1751.1" stroke="#fff" stroke-width="1.7"/>
<line x1="187.5" x2="187.5" y1="1092" y2="1805.6" stroke="#fff" stroke-width="1.7"/>
<line x1="338.5" x2="338.5" y1="1092" y2="1805.6" stroke="#fff" stroke-width="1.7"/>
<line x1="489.5" x2="489.5" y1="1092" y2="1805.6" stroke="#fff" stroke-width="1.7"/>
<line x1="640.5" x2="640.5" y1="1092" y2="1805.6" stroke="#fff" stroke-width="1.7"/>
<line x1="791.5" x2="791.5" y1="1092" y2="1805.6" stroke="#fff" stroke-width="1.7"/>
<line x1="80.1" x2="874.6" y1="1277.9" y2="1277.9" stroke="#fff" stroke-width="2.7"/>
<line x1="80.1" x2="874.6" y1="1467.18" y2="1467.18" stroke="#fff" stroke-width="2.7"/>
<line x1="80.1" x2="874.6" y1="1656.46" y2="1656.46" stroke="#fff" stroke-width="2.7"/>
<line x1="112" x2="112" y1="1092" y2="1805.6" stroke="#fff" stroke-width="2.7"/>
<line x1="263" x2="263" y1="1092" y2="1805.6" stroke="#fff" stroke-width="2.7"/>
<line x1="414" x2="414" y1="1092" y2="1805.6" stroke="#fff" stroke-width="2.7"/>
<line x1="565" x2="565" y1="1092" y2="1805.6" stroke="#fff" stroke-width="2.7"/>
<line x1="716" x2="716" y1="1092" y2="1805.6" stroke="#fff" stroke-width="2.7"/>
<line x1="867" x2="867" y1="1092" y2="1805.6" stroke="#fff" stroke-width="2.7"/>
<circle cx="116.2" cy="1773" r="5.8" fill="#1B9E77"/>
<circle cx="398" cy="1678.6" r="5.8" fill="#D95F02"/>
<circle cx="589.8" cy="1400" r="5.8" fill="#7570B3"/>
<circle cx="671.6" cy="1309.7" r="5.8" fill="#E7298A"/>
<circle cx="753.4" cy="1310.2" r="5.8" fill="#66A61E"/>
<circle cx="793.1" cy="1211.3" r="5.8" fill="#E6AB02"/>
<circle cx="829.7" cy="1143.5" r="5.8" fill="#A6761D"/>
<circle cx="838.2" cy="1138" r="5.8" fill="#666666"/>
<line x1="74.5" x2="80.1" y1="1277.9" y2="1277.9" stroke="#333" stroke-width="2"/>
<text x="30.12" y="1284.60" font-family='"Liberation Sans", Arial, Helvetica, sans-serif' font-size="19.1" fill="#4d4d4d" textLength="38.76" lengthAdjust="spacingAndGlyphs" xml:space="preserve">0.94</text>
<line x1="74.5" x2="80.1" y1="1467.18" y2="1467.18" stroke="#333" stroke-width="2"/>
<text x="30.12" y="1473.88" font-family='"Liberation Sans", Arial, Helvetica, sans-serif' font-size="19.1" fill="#4d4d4d" textLength="38.96" lengthAdjust="spacingAndGlyphs" xml:space="preserve">0.90</text>
<line x1="74.5" x2="80.1" y1="1656.46" y2="1656.46" stroke="#333" stroke-width="2"/>
<text x="30.12" y="1663.16" font-family='"Liberation Sans", Arial, Helvetica, sans-serif' font-size="19.1" fill="#4d4d4d" textLength="39.07" lengthAdjust="spacingAndGlyphs" xml:space="preserve">0.86</text>
<line x1="112" x2="112" y1="1805.6" y2="1810.8" stroke="#333" stroke-width="2"/>
<text x="92.16" y="1830.30" font-family='"Liberation Sans", Arial, Helvetica, sans-serif' font-size="19.1" fill="#4d4d4d" textLength="39.24" lengthAdjust="spacingAndGlyphs" xml:space="preserve">0.89</text>
<line x1="263" x2="263" y1="1805.6" y2="1810.8" stroke="#333" stroke-width="2"/>
<text x="243.16" y="1830.30" font-family='"Liberation Sans", Arial, Helvetica, sans-serif' font-size="19.1" fill="#4d4d4d" textLength="39.27" lengthAdjust="spacingAndGlyphs" xml:space="preserve">0.91</text>
<line x1="414" x2="414" y1="1805.6" y2="1810.8" stroke="#333" stroke-width="2"/>
<text x="394.16" y="1830.30" font-family='"Liberation Sans", Arial, Helvetica, sans-serif' font-size="19.1" fill="#4d4d4d" textLength="39.17" lengthAdjust="spacingAndGlyphs" xml:space="preserve">0.93</text>
<line x1="565" x2="565" y1="1805.6" y2="1810.8" stroke="#333" stroke-width="2"/>
<text x="545.16" y="1830.30" font-family='"Liberation Sans", Arial, Helvetica, sans-serif' font-size="19.1" fill="#4d4d4d" textLength="39.13" lengthAdjust="spacingAndGlyphs" xml:space="preserve">0.95</text>
<line x1="716" x2="716" y1="1805.6" y2="1810.8" stroke="#333" stroke-width="2"/>
<text x="696.16" y="1830.30" font-family='"Liberation Sans", Arial, Helvetica, sans-serif' font-size="19.1" fill="#4d4d4d" textLength="39.30" lengthAdjust="spacingAndGlyphs" xml:space="preserve">0.97</text>
<line x1="867" x2="867" y1="1805.6" y2="1810.8" stroke="#333" stroke-width="2"/>
<text x="847.16" y="1830.30" font-family='"Liberation Sans", Arial, Helvetica, sans-serif' font-size="19.1" fill="#4d4d4d" textLength="39.24" lengthAdjust="spacingAndGlyphs" xml:space="preserve">0.99</text>
<text x="375.21" y="1859.00" font-family='"Liberation Sans", Arial, Helvetica, sans-serif' font-size="26.6" fill="#000" textLength="202.15" lengthAdjust="spacingAndGlyphs" xml:space="preserve">Mean  Sensitivity</text>
<text transform="translate(20.20 1548.00) rotate(-90)" x="-2.20" y="0" font-family='"Liberation Sans", Arial, Helvetica, sans-serif' font-size="26.8" fill="#000" textLength="202.75" lengthAdjust="spacingAndGlyphs" xml:space="preserve">Mean  Specificity</text>
<text x="889.80" y="1279.30" font-family='"Liberation Sans", Arial, Helvetica, sans-serif' font-size="24.4" fill="#000" textLength="135.79" lengthAdjust="spacingAndGlyphs" xml:space="preserve">Regions/PW</text>
<rect x="911.4" y="1294.4" width="37.9" height="304.9" fill="#f2f2f2"/>
<circle cx="930.2" cy="1313.2" r="5.5" fill="#1B9E77"/>
<text x="960.88" y="1320.30" font-family='"Liberation Sans", Arial, Helvetica, sans-serif' font-size="20.0" fill="#000" xml:space="preserve">15</text>
<circle cx="930.2" cy="1351.41" r="5.5" fill="#D95F02"/>
<text x="961.39" y="1358.51" font-family='"Liberation Sans", Arial, Helvetica, sans-serif' font-size="20.0" fill="#000" xml:space="preserve">20</text>
<circle cx="930.2" cy="1389.62" r="5.5" fill="#7570B3"/>
<text x="961.94" y="1396.72" font-family='"Liberation Sans", Arial, Helvetica, sans-serif' font-size="20.0" fill="#000" xml:space="preserve">40</text>
<circle cx="930.2" cy="1427.83" r="5.5" fill="#E7298A"/>
<text x="961.38" y="1434.93" font-family='"Liberation Sans", Arial, Helvetica, sans-serif' font-size="20.0" fill="#000" xml:space="preserve">60</text>
<circle cx="930.2" cy="1466.04" r="5.5" fill="#66A61E"/>
<text x="961.53" y="1473.14" font-family='"Liberation Sans", Arial, Helvetica, sans-serif' font-size="20.0" fill="#000" xml:space="preserve">80</text>
<circle cx="930.2" cy="1504.25" r="5.5" fill="#E6AB02"/>
<text x="960.88" y="1511.35" font-family='"Liberation Sans", Arial, Helvetica, sans-serif' font-size="20.0" fill="#000" xml:space="preserve">120</text>
<circle cx="930.2" cy="1542.46" r="5.5" fill="#A6761D"/>
<text x="960.88" y="1549.56" font-family='"Liberation Sans", Arial, Helvetica, sans-serif' font-size="20.0" fill="#000" xml:space="preserve">160</text>
<circle cx="930.2" cy="1580.67" r="5.5" fill="#666666"/>
<text x="961.39" y="1587.77" font-family='"Liberation Sans", Arial, Helvetica, sans-serif' font-size="20.0" fill="#000" xml:space="preserve">200</text>
</svg>
</body></html>
